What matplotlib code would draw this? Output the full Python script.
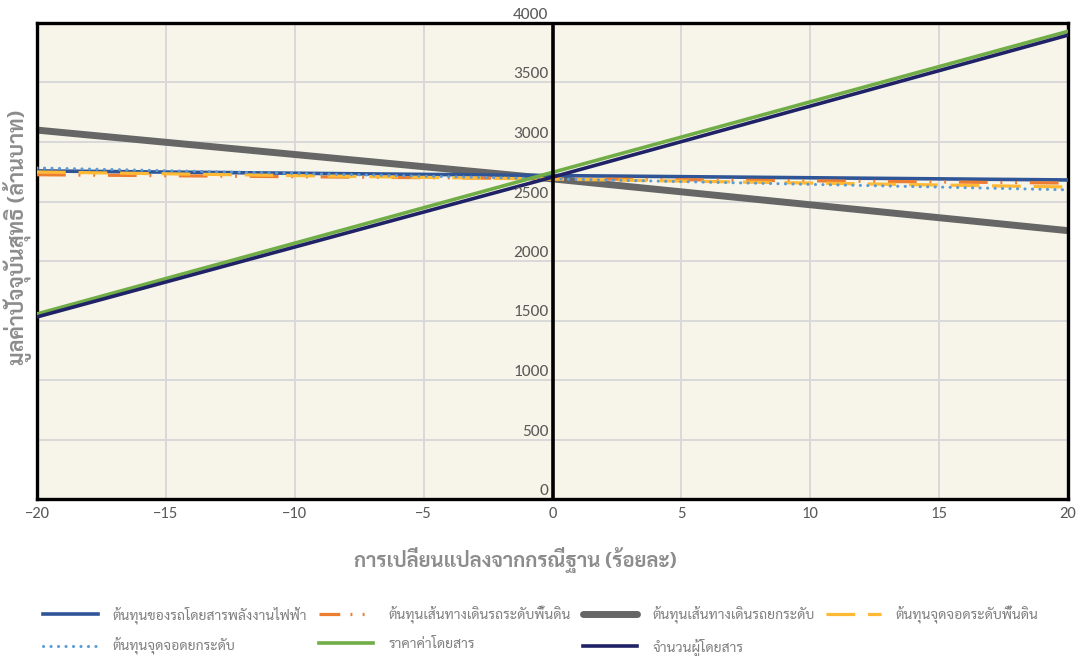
import matplotlib
matplotlib.use("Agg")
import matplotlib.pyplot as plt
from matplotlib import font_manager
from matplotlib.legend_handler import HandlerLine2D
from matplotlib.transforms import blended_transform_factory, ScaledTranslation

# ---------------- data ----------------
x_change = [-20, 0, 20]
series_names = [
    "ต้นทุนของรถโดยสารพลังงานไฟฟ้า",
    "ต้นทุนเส้นทางเดินรถระดับพื้นดิน",
    "ต้นทุนเส้นทางเดินรถยกระดับ",
    "ต้นทุนจุดจอดระดับพื้นดิน",
    "ต้นทุนจุดจอดยกระดับ",
    "ราคาค่าโดยสาร",
    "จำนวนผู้โดยสาร",
]
ev_bus_cost = [2757, 2718, 2681]
ground_route_cost = [2725, 2692, 2655]
elevated_route_cost = [3100, 2690, 2255]
ground_stop_cost = [2748, 2688, 2622]
elevated_stop_cost = [2782, 2690, 2598]
fare_price = [1555, 2745, 3930]
passengers = [1530, 2705, 3898]

x_ticks = [-20, -15, -10, -5, 0, 5, 10, 15, 20]
y_ticks = [0, 500, 1000, 1500, 2000, 2500, 3000, 3500, 4000]
x_label = "การเปลี่ยนแปลงจากกรณีฐาน (ร้อยละ)"
y_label = "มูลค่าปัจจุบันสุทธิ (ล้านบาท)"

# ---------------- fonts ----------------
avail = set(f.name for f in font_manager.fontManager.ttflist)
thai_font = next((f for f in ["Sarabun", "Noto Sans Thai Looped", "IBM Plex Sans Thai Looped",
                              "Noto Sans Thai", "Anuphan"] if f in avail), "DejaVu Sans")
num_font = next((f for f in ["Carlito", "Open Sans", "Roboto"] if f in avail), "DejaVu Sans")
plt.rcParams["font.family"] = [thai_font, "DejaVu Sans"]

# ---------------- figure ----------------
fig = plt.figure(figsize=(10.85, 6.56), dpi=100)
ax = fig.add_axes([37 / 1085, 1 - 499 / 656, (1068 - 37) / 1085, (499 - 23) / 656])
ax.set_facecolor("#F7F5E9")

styles = [
    dict(color="#2F5597", lw=2.6, ls="-", zorder=3),
    dict(color="#ED7D31", lw=2.3, ls=(0, (9, 4, 0.6, 4, 0.6, 4)), zorder=3),
    dict(color="#666666", lw=5.0, ls="-", zorder=2, solid_capstyle="round"),
    dict(color="#FFB934", lw=2.3, ls=(0, (9, 4)), zorder=3),
    dict(color="#5B9BD5", lw=2.2, ls=(0, (0.05, 2.4)), zorder=4, dash_capstyle="round"),
    dict(color="#70AD47", lw=2.6, ls="-", zorder=4),
    dict(color="#1F2266", lw=2.6, ls="-", zorder=5),
]
data = [ev_bus_cost, ground_route_cost, elevated_route_cost, ground_stop_cost,
        elevated_stop_cost, fare_price, passengers]

handles = []
for name, vals, st in zip(series_names, data, styles):
    h, = ax.plot(x_change, vals, label=name, **st)
    handles.append(h)

ax.set_xlim(-20, 20)
ax.set_ylim(0, 4000)
ax.set_xticks(x_ticks)
ax.set_yticks(y_ticks)
ax.grid(True, color="#D9D9D9", lw=1.4, zorder=0)
ax.set_axisbelow(True)
for s in ax.spines.values():
    s.set_linewidth(2.4)
    s.set_color("black")
ax.axvline(0, color="black", lw=2.6, zorder=6)

ax.tick_params(axis="both", length=0)
ax.tick_params(axis="y", labelleft=False)
ax.set_xticklabels([str(t).replace("-", "\u2212") if t < 0 else str(t) for t in x_ticks],
                   fontsize=12, color="#595959", family=num_font)
ax.tick_params(axis="x", pad=6)

trans = blended_transform_factory(ax.transData, ax.transData) + \
    ScaledTranslation(-4 / 100, 1 / 100, fig.dpi_scale_trans)
for t in y_ticks:
    ax.text(0, t, str(t), transform=trans, ha="right", va="bottom",
            fontsize=12.5, color="#595959", family=num_font, zorder=7, clip_on=False)

fig.text(515 / 1085, 1 - 560 / 656, x_label, ha="center", va="center",
         fontsize=14.6, fontweight="bold", color="#8C8C8C")
fig.text(18 / 1085, 1 - 237 / 656, y_label, ha="center", va="center", rotation=90,
         fontsize=15.5, fontweight="bold", color="#8C8C8C")


def orange_legend(legend_handle, orig_handle):
    legend_handle.update_from(orig_handle)
    legend_handle.set_linestyle((0, (6.5, 3.2, 0.6, 3.2, 0.6, 3.2)))


order = [0, 4, 1, 5, 2, 6, 3]
leg = fig.legend([handles[i] for i in order], [series_names[i] for i in order],
                 ncol=4, loc="lower left", bbox_to_anchor=(35 / 1085, -0.012),
                 frameon=False, fontsize=10, handlelength=3.9, handletextpad=1.1,
                 columnspacing=0.85, labelspacing=1.0, borderaxespad=0.2,
                 handler_map={handles[1]: HandlerLine2D(update_func=orange_legend)})
for t in leg.get_texts():
    t.set_color("#7F7F7F")

fig.savefig("out.png", dpi=100, facecolor="white")
